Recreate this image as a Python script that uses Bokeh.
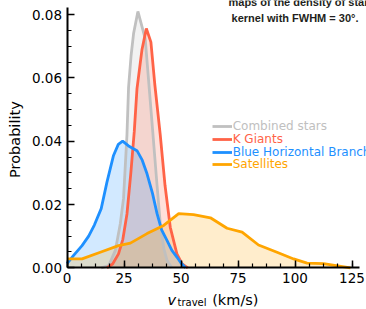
import math
from bokeh.plotting import figure
from bokeh.models import (Range1d, FixedTicker, PrintfTickFormatter, Label,
                          Legend, LegendItem)
from bokeh.embed import file_html
from bokeh.resources import INLINE

# ---------------- data ----------------
combined_x = [15, 18.3, 21.2, 23.4, 24.8, 26.3, 27.0, 28.1, 29.2, 31.1, 34.3,
              37.5, 39.5, 40.9, 42.5, 43.9, 46]
combined_y = [0, 0.0007, 0.0055, 0.014, 0.022, 0.042, 0.057, 0.067, 0.074,
              0.081, 0.0724, 0.044, 0.026, 0.014, 0.006, 0.0023, 0]

kgiant_x = [17.5, 20, 22.6, 24.5, 26.3, 28, 29.5, 30.7, 32.9, 34.8, 36.8,
            38.5, 40.9, 43, 45.3, 48.2, 50.5, 53]
kgiant_y = [0, 0.0012, 0.0044, 0.009, 0.017, 0.030, 0.043, 0.0566, 0.069,
            0.0756, 0.0713, 0.058, 0.042, 0.026, 0.0128, 0.0044, 0.0012, 0]

bhb_x = [0, 2.9, 6.6, 9.5, 12, 15, 17.5, 20.4, 22.5, 24.4, 27, 30.7, 33,
         35.1, 37.5, 39.5, 41.5, 43.9, 46, 48.2, 50, 52]
bhb_y = [0.0013, 0.0039, 0.007, 0.010, 0.0135, 0.0187, 0.027, 0.0355, 0.039,
         0.040, 0.0385, 0.037, 0.034, 0.0297, 0.0235, 0.0171, 0.012, 0.0086,
         0.0055, 0.0034, 0.0015, 0]

sat_x = [0, 6.6, 14.6, 22.6, 27.8, 35.1, 42.4, 49, 55.5, 62.9, 70.2, 76.8,
         84, 92.1, 99.4, 105.3, 112.5, 124.3]
sat_y = [0.0028, 0.0028, 0.0049, 0.007, 0.0078, 0.0108, 0.0134, 0.0171,
         0.0168, 0.0158, 0.0125, 0.0113, 0.0072, 0.0049, 0.0028, 0.0015,
         0.0013, 0]

series_labels = ["Combined stars", "K Giants", "Blue Horizontal Branch", "Satellites"]
series_colors = ["#c0c0c0", "#ff6347", "#1e90ff", "#ffa500"]

x_ticks = [0, 25, 50, 75, 100, 125]
y_ticks = [0.0, 0.02, 0.04, 0.06, 0.08]

X_AXIS_END = 128.2
Y_AXIS_END = 0.0822

# ---------------- figure ----------------
# The frame covers the whole canvas; the axes are pinned at 0 so that
# all texts (axis titles, caption) can live inside the frame.
W, H = 366, 309
X0_PX, Y0_PX = 66.5, 267.3          # pixel position of the data origin
SX, SY = 2.28, 3165.0                 # pixels per data unit
p = figure(width=W, height=H, output_backend="svg", toolbar_location=None,
           x_range=Range1d(-X0_PX / SX, (W - X0_PX) / SX),
           y_range=Range1d(-(H - Y0_PX) / SY, Y0_PX / SY),
           min_border_left=0, min_border_right=0, min_border_top=0,
           min_border_bottom=0)
p.background_fill_color = "white"
p.border_fill_color = "white"
p.outline_line_color = None
p.xgrid.grid_line_color = None
p.ygrid.grid_line_color = None

p.xaxis.ticker = FixedTicker(ticks=x_ticks,
                             minor_ticks=[i * 6.25 for i in range(21)])
p.yaxis.ticker = FixedTicker(ticks=y_ticks,
                             minor_ticks=[i * 0.005 for i in range(17)])
p.yaxis.formatter = PrintfTickFormatter(format="%.2f")
p.xaxis.fixed_location = 0
p.yaxis.fixed_location = 0
p.xaxis.bounds = (0, X_AXIS_END)
p.yaxis.bounds = (0, Y_AXIS_END)

for ax in (p.xaxis, p.yaxis):
    ax.axis_line_width = 2
    ax.axis_line_color = "black"
    ax.major_tick_line_width = 1.5
    ax.minor_tick_line_width = 1.2
    ax.major_tick_line_color = "black"
    ax.minor_tick_line_color = "black"
    ax.major_tick_in = 7
    ax.major_tick_out = 0
    ax.minor_tick_in = 4
    ax.minor_tick_out = 0
    ax.major_label_text_font = "DejaVu Sans"
    ax.major_label_text_font_size = "13.5px"
    ax.major_label_text_color = "black"
    ax.major_label_standoff = 5

# ---------------- curves ----------------
all_x = [combined_x, kgiant_x, bhb_x, sat_x]
all_y = [combined_y, kgiant_y, bhb_y, sat_y]
line_renderers = []
for xs, ys, col in zip(all_x, all_y, series_colors):
    p.varea(x=xs, y1=0, y2=ys, fill_color=col, fill_alpha=0.2)
for xs, ys, col in zip(all_x, all_y, series_colors):
    r = p.line(xs, ys, line_color=col, line_width=2.8)
    line_renderers.append(r)

# ---------------- legends (one per item so each label has its colour) ----
leg_vy = [175.7, 163.0, 150.3, 137.7]
for r, lab, col, vy in zip(line_renderers, series_labels, series_colors, leg_vy):
    leg = Legend(items=[LegendItem(label=lab, renderers=[r])],
                 location=(211.7, vy), label_text_color=col,
                 label_text_font="DejaVu Sans", label_text_font_size="12px",
                 glyph_width=20, glyph_height=12, label_height=12,
                 label_standoff=1, padding=0, margin=0, spacing=0,
                 border_line_color=None, background_fill_alpha=0)
    p.add_layout(leg)

# ---------------- axis titles ----------------
p.add_layout(Label(x=0, y=0.0405, x_offset=-52.5, angle=math.pi / 2,
                   text="Probability", text_align="center",
                   text_baseline="middle", text_font="DejaVu Sans",
                   text_font_size="14.5px", text_color="black"))
p.add_layout(Label(x=0, y=0, x_offset=100.5, y_offset=-31.7, text="v",
                   text_align="left", text_baseline="alphabetic",
                   text_font="DejaVu Sans", text_font_style="italic",
                   text_font_size="14.5px", text_color="black"))
p.add_layout(Label(x=0, y=0, x_offset=110.5, y_offset=-34.4, text="travel",
                   text_align="left", text_baseline="alphabetic",
                   text_font="DejaVu Sans", text_font_size="10px",
                   text_color="black"))
p.add_layout(Label(x=0, y=0, x_offset=145.2, y_offset=-31.7, text="(km/s)",
                   text_align="left", text_baseline="alphabetic",
                   text_font="DejaVu Sans", text_font_size="14.5px",
                   text_color="black"))

# ---------------- caption text of the page (top right, cut by the crop) --
p.add_layout(Label(x=0, y=0, x_offset=161.5, y_offset=265.8,
                   text="maps of the density of stars", text_align="left",
                   text_baseline="alphabetic", text_font="Liberation Sans",
                   text_font_style="bold", text_font_size="11px",
                   text_color="#231f20"))
p.add_layout(Label(x=0, y=0, x_offset=291.5, y_offset=250.3,
                   text="kernel with FWHM = 30°.", text_align="right",
                   text_baseline="alphabetic", text_font="Liberation Sans",
                   text_font_style="bold", text_font_size="11px",
                   text_color="#231f20"))

open("out.html", "w").write(file_html(p, INLINE))
